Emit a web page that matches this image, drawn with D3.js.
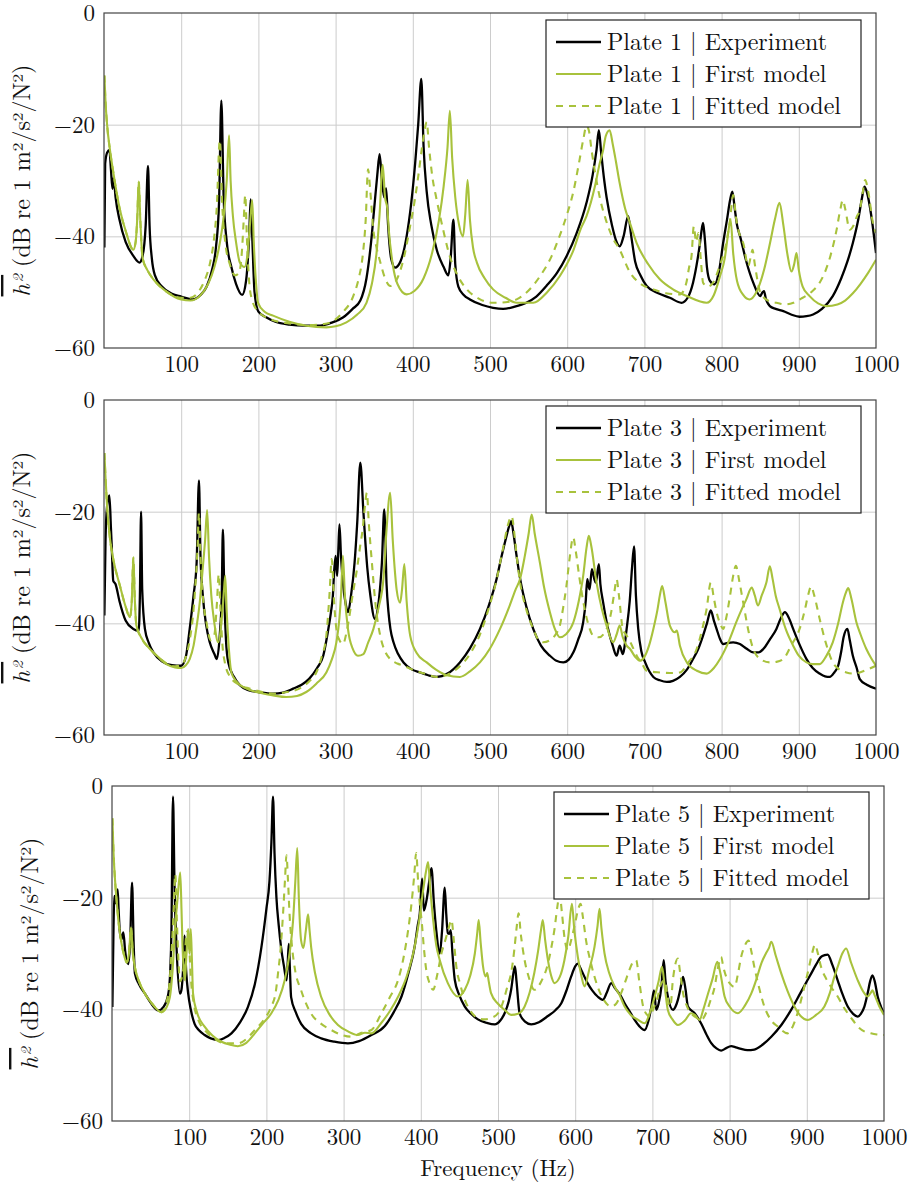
<!DOCTYPE html>
<html lang="en">
<head>
<meta charset="UTF-8">
<title>Plate FRF comparison</title>
<script src="https://d3js.org/d3.v7.min.js"></script>
<style>
    body { margin: 0; padding: 0; background: #fff; }
    svg { display: block; font-family: "Latin Modern Roman", "CMU Serif", "Liberation Serif", serif; }
    .grid line { stroke: #cccccc; stroke-width: 1; }
    .grid path { display: none; }
    .tick text { fill: #111; font-size: 23px; font-family: "Latin Modern Roman", "CMU Serif", "Liberation Serif", serif; }
    .frame { fill: none; stroke: #444; stroke-width: 1.2; }
    .curve { fill: none; stroke-linejoin: round; }
</style>
</head>
<body>
<div id="chart"></div>
<script>
// ---- data: [frequency (Hz), level (dB)] ----
const freqTicks = [100, 200, 300, 400, 500, 600, 700, 800, 900, 1000];
const dbTicks = [0, -20, -40, -60];
const dbTickLabels = ["0", "\u221220", "\u221240", "\u221260"];
const plateNames = ["Plate 1", "Plate 3", "Plate 5"];
const seriesNames = ["Experiment", "First model", "Fitted model"];

const p1Exp = [[0.5,-42],[1.5,-27],[4,-25],[7,-24.5],[9,-28],[11,-31.5],[12.5,-29.5],[15,-33],[20,-37],[28,-41],[38,-43.5],[46,-44.7],[50,-43.5],[54,-38],[57,-27.4],[59,-38],[62,-44],[66,-47],[75,-49],[88,-50.3],[100,-50.8],[115,-51.3],[125,-50.5],[133,-49],[140,-46],[145,-42],[149,-34],[152,-15.7],[155,-33],[159,-41],[165,-45.5],[171,-48.5],[179,-50.5],[184,-48],[188,-40],[190,-33.4],[192,-40],[195,-50],[200,-53.5],[210,-54.5],[222,-55.3],[240,-55.8],[260,-56],[280,-56],[296,-55.4],[310,-54.5],[322,-53],[332,-51.5],[340,-47.5],[346,-41],[350,-35],[354,-29],[357,-25.3],[360,-30],[363,-33],[365.5,-31.4],[368,-38],[372,-44],[377,-45.6],[384,-44.5],[392,-40],[398,-34],[403,-27],[407,-20],[411,-11.8],[414,-24],[418,-32],[424,-38],[431,-42.4],[440,-45.5],[446,-47],[449,-44],[452.6,-37],[455,-45],[459,-49],[466,-50.5],[474,-51.3],[490,-52.3],[504,-52.8],[517,-53],[532,-52.6],[547,-51.9],[560,-50.8],[573,-48.9],[587,-46.5],[599,-43.6],[612,-39.5],[625,-34],[633,-29],[638,-24.5],[641,-21],[644,-25],[648,-30],[651,-33],[658,-38],[664,-41],[668,-41.8],[673,-40],[679,-36.4],[683,-40],[688,-44.5],[695,-47],[703,-48.9],[718,-50.2],[733,-51],[748,-51.9],[756,-51],[763,-48.3],[769,-44],[772,-41.2],[774,-39],[776,-37.6],[778,-40],[781,-45.5],[785,-48],[791,-48.6],[797,-46],[802,-41.2],[807,-37],[811,-33.5],[814,-32],[817,-35],[820,-38],[824,-40],[832,-44.5],[841,-48.3],[850,-50.7],[853,-50],[855,-49.8],[857,-51],[862.5,-52.5],[870,-53],[880,-53.4],[890,-54],[901,-54.4],[910,-54.3],[918.5,-54],[930,-53],[944,-50.7],[955,-47.5],[963,-44.5],[970,-41.2],[977,-37],[982,-33],[985,-31.1],[988,-32],[994,-36.4],[1000,-43]];
const p1First = [[0.5,-11.2],[2,-16],[4,-20],[7.8,-24.6],[12,-28.5],[20.7,-35.3],[28,-39],[38,-42.4],[41,-41],[43,-37],[45,-30.2],[47,-37],[50,-43.9],[56,-46],[64,-47.7],[80,-49.8],[100,-51.3],[112,-51.5],[124,-50.7],[135,-48.5],[143,-45.5],[150,-41.2],[155,-36.5],[159,-30],[162,-21.9],[164,-30],[167,-36.4],[171,-41],[176,-44.7],[182,-45.5],[186,-43],[189,-38],[192,-33.5],[194,-41],[197,-48.5],[199.6,-51.9],[208,-53.5],[219,-54.2],[240,-55.3],[262,-56],[288,-56.3],[300,-56.1],[314,-55.4],[328,-54],[340,-51.9],[347,-48.5],[353,-43],[357,-36],[361,-27.2],[364,-33],[367,-35],[369,-39],[374,-45],[380,-48.5],[392,-50.4],[402,-49.8],[414,-47.5],[425,-43],[434,-37],[440,-31],[445,-24],[448,-17.5],[451,-26],[455,-33],[460,-38],[465,-40],[468,-36],[471,-29.9],[474,-37],[478,-42],[483,-44.7],[493,-47.5],[504,-49.5],[520,-51],[534.5,-51.9],[556,-51.9],[574,-50],[590.5,-47.1],[608,-42.5],[618,-38.5],[625,-36.4],[636,-31],[642,-27],[646.5,-24.6],[650,-22],[655,-21],[659,-23.5],[663,-26.5],[668,-30.5],[675,-35],[681,-37.5],[690,-41.2],[705,-45],[720,-47.7],[737,-49.5],[755,-50.7],[780.6,-51.9],[790,-50.5],[798,-47.1],[804,-44],[808,-40],[811.6,-37],[815,-43],[820,-48],[828,-50.5],[836,-51.3],[845,-50],[855,-46],[863,-41],[869,-37],[875,-34],[880,-38],[885,-43],[890.5,-46.3],[894,-45],[897,-43],[900,-46],[905,-49],[914,-50.7],[925,-52],[936,-52.5],[950,-52.2],[960,-51.5],[970,-50.2],[980,-48.5],[990,-46.5],[1000,-44.2]];
const p1Fit = [[0.5,-11.2],[2,-16],[4,-20],[7.8,-24.6],[12,-28.5],[20.7,-35.3],[28,-39],[38,-42.4],[41,-41],[43,-37],[45,-30.2],[47,-37],[50,-43.9],[56,-46],[64,-47.7],[80,-49.8],[100,-51],[112,-51],[122,-50],[130,-48],[137,-45],[142,-41],[146,-35],[150,-22.8],[153,-34],[157,-41],[163,-45],[170,-47],[175,-46.5],[179,-42],[181,-37],[183,-32.6],[185,-40],[188,-48],[192,-51.5],[200,-53.5],[215,-54.8],[240,-55.6],[265,-55.9],[285,-55.7],[296.5,-55.2],[310,-53.5],[322,-51],[330,-47.5],[335,-43.6],[339,-37],[342,-28],[345,-32],[349,-39],[353,-42],[358,-44.7],[364,-47.5],[371,-48.9],[380,-47.5],[389,-43.5],[396.5,-38.2],[402,-34],[407,-29.3],[412,-24],[416,-20.5],[418,-19.5],[421,-24],[425,-29],[431,-33.5],[438,-38],[448,-43.6],[458,-47],[470,-49.5],[486,-51.2],[504,-51.9],[520,-51.8],[534.5,-51.3],[550,-49.7],[565,-47.1],[580,-43.5],[590,-40],[599,-36.4],[608,-32],[616,-26.3],[621,-22.5],[625,-20.2],[628,-21],[632,-25],[636,-28.5],[642,-32.9],[650,-37],[658,-40],[668,-42.4],[681.5,-46.5],[695,-48.5],[711.6,-49.5],[728,-50.2],[746,-50.4],[754,-48.5],[758,-45.5],[761,-43.6],[764,-38.2],[767,-41],[770,-39.4],[773,-44],[776,-48.3],[782,-49],[789,-48.3],[797,-45.5],[806,-41.2],[811,-37],[815,-32.6],[819,-37],[824,-40],[828,-41.2],[834.5,-45.3],[838,-43.5],[840,-42.4],[843,-45],[850,-50],[860,-51.5],[871,-51.9],[882,-52.2],[893,-51.9],[905,-51],[916,-50],[927,-48.3],[935,-46],[942,-43],[949,-38.8],[954,-35],[957,-33.5],[960,-35],[966,-38.8],[971,-38],[975,-36.5],[979,-35.3],[983,-32],[986,-29.9],[990,-32],[996,-37.6],[1000,-39.4]];

const p3Exp = [[0.5,-38.6],[2,-25],[4,-19],[7,-17.1],[9,-23],[10,-26.1],[11,-30],[12,-32.4],[15,-33],[20,-36],[28,-39.5],[38,-41],[45,-41.3],[46.5,-35],[48,-20],[49.5,-34],[53,-41],[58,-43.5],[64,-45.2],[75,-46.8],[88,-47.5],[100,-47.6],[106,-46],[111,-41],[116,-35],[120,-29.1],[123,-14.4],[125,-28],[128,-35],[132,-40],[137,-43.4],[143,-45.5],[146,-46.4],[150,-42],[152.5,-35],[154,-23.2],[156,-36],[158,-43],[161,-47],[168,-49.5],[176,-51.1],[188,-52],[200,-52.3],[219,-52.6],[232,-52.4],[245,-51.7],[256,-51],[266,-49.9],[276,-48],[284,-45.8],[290,-41.5],[294,-38],[296.5,-35],[298,-31],[300,-27.9],[302,-31.5],[303.5,-27],[305,-22.3],[307,-28],[309.5,-32.7],[313,-36.5],[316,-38],[320,-35],[324.6,-29.1],[328,-22],[332,-11.2],[336,-20],[338,-24.3],[341,-30],[345,-35],[351,-39.2],[355,-37],[358,-33],[360,-29.1],[363,-19.6],[366,-33],[368.5,-38],[371,-41],[375,-43.4],[381,-45.5],[388,-47],[398,-48.2],[409.5,-48.8],[420,-49.3],[431,-49.6],[445,-49],[461,-47],[474,-44.5],[487,-41],[498,-37],[508.6,-32],[515,-28],[521.5,-24.3],[525,-22.5],[527.5,-21.7],[530,-23.5],[534,-27.5],[539,-32],[547,-37],[556,-41],[566,-44],[577.6,-45.8],[586,-46.7],[595,-47],[602,-46.5],[608,-45.2],[614,-43],[620.7,-39.8],[624,-36],[626,-32.1],[628,-33.5],[629,-33.9],[632,-30.3],[635,-32],[637,-32.7],[641,-29.4],[643,-33],[646.5,-36.2],[653,-41],[659,-44],[664,-45.8],[668,-44],[672,-45.5],[677,-41],[681,-36],[684,-30],[686.6,-26.2],[689,-35],[692,-41],[696,-45],[701,-47],[711.6,-49.6],[720,-50.2],[729,-50.5],[737,-50.3],[746,-49.6],[755,-48.3],[763,-46.4],[770,-44.5],[776,-42.2],[781,-40],[786,-37.7],[790,-39.5],[793.5,-41],[798,-42.8],[802,-43.7],[808,-43.5],[815,-43.4],[823.7,-43.7],[832,-44.5],[841,-45.2],[848,-45.2],[854,-44.6],[862,-43],[871,-41],[877,-39],[882,-38],[887,-39],[892.7,-41],[900,-43.5],[910,-46.4],[918,-48],[927,-49],[934,-49.5],[940,-49.6],[946,-48.8],[951,-47.6],[955,-45],[958,-42.5],[963,-41],[966,-43],[970,-45.8],[975,-48],[979,-50],[988,-51],[1000,-51.7]];
const p3First = [[0.5,-9.5],[2,-14],[4,-19],[7.8,-24.9],[12,-28.5],[20.7,-33.3],[28,-37],[33.6,-38.9],[36,-36],[38,-28.2],[40,-36],[42,-40.4],[48,-42.5],[59.5,-44.6],[70,-46],[81,-47.3],[92,-47.9],[100,-48],[106,-47.5],[111,-46.4],[116,-44],[120,-40.5],[124,-36.3],[128,-30],[131,-25],[133.6,-19.7],[136,-28],[139,-35],[143,-40],[148,-43.4],[152,-40],[155,-35],[157,-31.5],[159,-38],[162,-45],[165,-48.8],[172,-50.5],[184.5,-51.7],[200,-52.4],[219,-52.9],[236,-53.2],[250,-53],[262,-52.3],[275,-50.8],[288,-48.8],[295,-46.5],[301,-43.4],[305,-39],[307,-35],[309.5,-27.9],[312,-35],[316,-41],[322,-44.5],[329,-45.8],[336,-45.5],[342,-43.5],[349,-41],[356,-37],[362,-32],[366,-23.2],[370.7,-16.6],[374,-25],[377,-31],[379,-33.9],[383.6,-36.3],[386,-34],[389,-29.4],[392,-36],[396.6,-42.2],[405,-45.3],[418,-47],[430,-48.3],[444,-49.3],[461,-49.6],[474,-48.6],[487,-47],[500,-44.5],[513,-41],[525,-37],[533,-34],[539,-32],[545,-28],[550,-24],[554,-20.5],[558,-24],[564.6,-29.1],[570,-33.5],[577.6,-38],[584,-41],[590.5,-42.5],[598,-42],[608,-39.8],[615,-36],[620.7,-31.5],[625,-26.5],[628,-24.3],[631,-26],[638,-32.7],[645,-37.5],[651,-40.4],[659.5,-43.4],[664,-42],[668,-40.4],[672,-42.5],[677,-44],[681.5,-44.6],[688,-46],[694,-46.7],[700,-46],[706,-44],[711.6,-41],[717,-37.5],[720,-35],[723,-33.3],[727,-36],[733,-40.4],[739.6,-41.6],[742,-41.3],[746,-44],[755,-47],[768,-48.5],[780.6,-49],[790,-48],[798,-46.4],[810,-43],[819,-39.8],[826,-37.5],[832,-35.7],[839,-33.6],[843,-35],[847,-36.8],[852,-35],[858,-32.7],[862.5,-29.8],[866,-32],[870,-35],[875,-37.4],[883,-41],[892.7,-44],[900,-45.8],[910,-47],[918,-47.3],[927,-47.3],[935,-46],[944,-43.4],[951,-40],[957,-36.3],[961,-34.5],[964,-33.7],[968,-35.5],[974.6,-39.8],[980,-42],[987.5,-44.6],[994,-46.3],[1000,-47.6]];
const p3Fit = [[0.5,-9.5],[2,-14],[4,-19],[7.8,-24.9],[12,-28.5],[20.7,-33.3],[28,-37],[33.6,-38.9],[36,-36],[38,-28.2],[40,-36],[42,-40.4],[48,-42.5],[59.5,-44.6],[70,-46],[81,-47.2],[92,-47.7],[100,-47.5],[106,-46],[111,-43],[115,-39],[118,-34],[121,-27],[123,-20.2],[125,-28],[128,-35],[133,-40],[138,-43],[143,-42],[146,-37],[148.7,-31.2],[151,-38],[153.5,-44],[156.5,-47],[163,-49.5],[175,-51],[189,-51.7],[205,-52.3],[220,-52.6],[237,-52.3],[253,-51.7],[265,-50.5],[275,-48.8],[282,-46],[288,-42.2],[292,-35],[295,-28.5],[298,-36],[301,-41],[305,-43],[309.5,-43.7],[315,-41],[322,-35],[328,-30],[332,-26],[335,-23.2],[338,-19],[340.5,-16.6],[343,-22],[347,-29.1],[352,-37],[357.8,-42.2],[364,-45],[370.7,-46.4],[380,-47.2],[388,-47.6],[400,-48.3],[415,-49],[431,-49.6],[445,-49.2],[460,-47.8],[474,-45.5],[487,-42],[498,-37.5],[508,-32.5],[517,-26.5],[523,-22.5],[528,-20.8],[532,-24.5],[535,-28.5],[539,-32.7],[547,-37.5],[556,-41],[563,-43],[569,-43.4],[578,-43],[585,-42],[590.5,-40.4],[595,-37],[599,-33.3],[603,-28.5],[607.8,-24.6],[611,-27],[616,-32],[622,-37],[628,-40.5],[633.6,-42.2],[641,-42.5],[651,-41],[657,-38],[661,-34.5],[664,-32.1],[667,-35],[672,-41],[677,-42.2],[684,-44],[690,-45.8],[696,-47],[703,-48.5],[720,-48.8],[733,-48.9],[746,-48.8],[757,-47],[767.7,-44.6],[775,-41],[780.6,-37.4],[786,-32.7],[790,-35.5],[793.5,-38],[798,-40],[802,-41],[806,-39],[811,-35],[815,-31.5],[818.5,-29.7],[823,-32.5],[828,-36.3],[835,-41.5],[841,-44.6],[850,-46.4],[862.5,-47],[871,-46.9],[880,-46.4],[890,-44],[901,-41],[908,-37.5],[912,-35],[916,-33.4],[920,-35],[927,-39.2],[935,-43.5],[944,-47],[952,-48.2],[961.6,-48.8],[970,-49],[979,-48.8],[990,-48.2],[1000,-47.6]];

const p5Exp = [[0.5,-39.6],[2,-25],[3,-19.7],[5,-21],[7.3,-18.5],[8.5,-22],[10,-25.9],[12,-27.5],[14.7,-26.2],[17,-29.5],[21,-31.9],[23.5,-28],[26,-17.3],[28,-28],[29.7,-33.6],[35,-35.5],[42.7,-37.2],[50,-38.8],[60,-40.2],[67,-39.5],[73,-37.2],[75.5,-33],[77,-25.9],[79,-1.9],[81,-18],[83.6,-28.9],[88,-37.2],[90,-36.5],[92,-33],[94,-26.8],[96,-33],[98.7,-37.2],[102,-40],[107,-42.6],[113,-43.8],[120,-44.6],[128,-45.2],[137.5,-45.5],[146,-45.1],[154.7,-44.3],[165,-42.5],[176,-39.6],[185,-35.5],[193.5,-28.9],[200,-22],[204,-17],[206.5,-10],[208.6,-1.9],[210.5,-12],[213,-20],[216,-25],[219,-28.9],[223,-32.5],[226,-34.8],[227.5,-32],[229,-28.3],[230.5,-33],[232,-37.8],[238,-40.5],[245,-42.6],[258,-44.3],[271,-45.2],[288,-45.8],[305.6,-46.1],[320,-45.7],[336,-44.6],[353.4,-43],[365,-40.5],[375,-37.7],[384,-33.5],[392,-28.8],[396,-25],[398.7,-22.8],[401.7,-16.6],[404,-22.3],[408,-20],[411,-17],[413.8,-14.7],[417,-21],[420,-25.8],[424.6,-30],[427.5,-26],[431,-18.2],[433,-23],[435,-26.4],[437,-26.5],[438.8,-25.8],[441,-30],[444,-34.7],[450,-37.5],[457,-39.5],[465,-40.8],[474,-41.8],[485,-42.4],[495.7,-42.7],[503,-42],[508.6,-40.7],[514,-38.5],[517,-36.5],[520,-33.5],[522,-32.3],[524,-35],[528,-40.7],[535,-42.2],[543,-42.7],[553,-42.3],[564.7,-41.2],[574,-40.2],[582,-38.9],[589,-36.5],[594.8,-34.1],[600,-32.3],[603.4,-31.8],[608,-33],[616,-35.3],[622,-36.6],[629,-37.7],[635.8,-38.3],[641,-37],[646.6,-35.3],[652,-36.3],[659.5,-37.7],[664,-38.9],[672,-40.7],[677,-41.9],[683,-43],[690,-43.7],[695,-42],[698.7,-39.5],[702,-36.6],[705,-40.1],[708,-39],[711.6,-36],[714.7,-31.2],[717,-35],[720,-37.7],[726.7,-40.1],[730,-39.5],[733,-38.3],[736,-36.5],[739.7,-34.2],[743,-36.5],[746,-39.5],[754.7,-40.7],[763,-42.5],[770,-44.5],[776,-46],[783,-47],[789,-47.4],[795,-47],[802,-46.6],[808,-46.8],[815,-47.1],[823,-47.3],[832,-47.2],[843,-46.3],[854,-44.9],[867,-42.8],[879.7,-40.1],[892,-37],[905.6,-33.6],[912,-32],[918.5,-30.6],[923,-30.3],[927,-30.2],[933,-32],[940,-34.8],[946,-37.2],[953,-39.5],[960,-40.8],[966,-41.3],[970,-40.8],[974.6,-39.5],[979,-37],[982,-35],[985,-33.9],[988,-35],[991.8,-37.7],[996,-39.5],[1000,-40.7]];
const p5First = [[0.5,-5.8],[2,-12],[4,-17],[6,-20.6],[9,-25],[12.5,-28.3],[16,-30.5],[19,-31.6],[22,-30],[24.6,-25.3],[27,-30],[29.7,-32.5],[35,-35],[42.7,-37.2],[52,-39],[64,-40.5],[70,-39.8],[75,-37.8],[78.5,-33],[81.5,-25.9],[85,-20],[88.4,-15.5],[90,-22],[91.4,-28.9],[93,-33],[94.4,-34.8],[96.5,-30],[98.7,-25.6],[100.3,-30],[102,-25.6],[103.5,-31],[105,-37.2],[110,-40.5],[120,-43.1],[130,-44.7],[141.8,-45.8],[152,-46.3],[163,-46.6],[174,-46],[185,-44.3],[195,-42.6],[206,-40.8],[215,-38.5],[223.7,-34.8],[230,-30],[234.5,-24.2],[237.5,-17],[240,-11.1],[242,-20],[245,-27.7],[248,-29],[251,-26],[254,-23],[256,-26],[258,-28.9],[263,-33.5],[271,-37.8],[282,-41],[292.7,-42.8],[305,-43.9],[318.5,-44.6],[327.6,-44.2],[336,-44.3],[349,-42.4],[360,-40.3],[370.7,-37.7],[382,-34],[392,-28.8],[398,-24],[403,-18.7],[406.5,-15.5],[409.5,-13.6],[412,-18],[416,-24],[420,-28.5],[424.6,-31.2],[435,-35.3],[448,-37.7],[457,-36.5],[464,-34],[470,-30],[473,-26.5],[475,-24],[477.5,-28],[480.6,-32.3],[484,-34.1],[486,-33.5],[488,-35],[491,-37.1],[500,-39],[508.6,-40.1],[517,-41],[526,-40.8],[534.5,-39.5],[541,-37],[547,-33.5],[552,-29.5],[555.5,-26],[558,-24],[561,-27.5],[564.7,-31.2],[570,-34.5],[573,-35.3],[580,-34.2],[586,-31.2],[591,-27],[595.7,-21.1],[599,-26],[603.4,-30.6],[608,-34],[612,-35.9],[618,-33],[625,-28.8],[629,-25],[631.5,-22],[634,-25.5],[638,-30],[644,-33.5],[651,-35.9],[657,-37.3],[664,-39.5],[672,-41],[681.5,-41.9],[690,-42.5],[697,-40.5],[703,-37.7],[708,-35],[712.5,-32.4],[716,-36],[720,-40.1],[726,-41.8],[733,-42.8],[742,-42],[750,-40.7],[755,-41],[761,-41.9],[766,-40],[772,-37.2],[778,-34.5],[784,-31.5],[788,-33.5],[793.5,-37.7],[800,-39.5],[810.8,-40.7],[820,-39.3],[828,-37.2],[835,-34.5],[841,-31.8],[847,-30],[851,-29],[854,-27.9],[860,-30.5],[867,-33.6],[875,-36.7],[884,-39.5],[892,-41.2],[901,-41.9],[912,-41],[922.8,-39.5],[930,-37],[935,-34.5],[940,-32.4],[946,-30],[951,-29.1],[957,-31.5],[966,-34.8],[973,-36.8],[979,-37.7],[983,-37],[985,-36.6],[988,-37.5],[994,-39.5],[1000,-41]];
const p5Fit = [[0.5,-5.8],[2,-12],[4,-17],[6,-20.6],[9,-25],[12.5,-28.3],[16,-30.5],[19,-31.6],[22,-30],[24.6,-25.3],[27,-30],[29.7,-32.5],[35,-35],[42.7,-37.2],[52,-39],[64,-40.5],[70,-39],[74,-36],[77,-30],[80,-22],[82,-15.8],[84,-24],[86,-31],[88,-35],[91,-34],[94,-31],[96,-27],[98,-26],[100,-29],[102.5,-35],[106,-39],[112,-42],[120,-43.7],[133,-45.3],[146,-46.1],[163,-46.1],[175,-45.2],[185,-43.7],[196,-42],[206,-39.6],[212,-37],[215,-33.6],[218.5,-29],[221.5,-23],[224,-17],[226,-12.4],[228,-17],[230,-23],[233,-28.5],[236.6,-32.5],[245,-36.6],[258,-40.8],[270,-42.5],[284,-43.7],[296,-44.5],[310,-44.9],[323,-44.2],[336,-43.7],[349,-40.7],[360,-37.8],[370.7,-34.7],[378,-30.5],[383.6,-25.8],[388,-21],[391.5,-16],[394,-12],[396.5,-17],[399,-21.5],[401,-24],[404,-29],[407,-32.9],[411,-35.2],[416,-36.5],[421,-34],[426.7,-30],[432,-27.5],[436,-25.5],[439.7,-24],[443,-28],[446,-32.3],[451,-35.5],[457,-38.3],[463,-40],[470,-41.2],[482.7,-41.8],[492,-41.5],[500,-40.7],[507,-38.5],[512,-36],[517,-33.5],[521,-29.5],[524,-25.5],[526.7,-22.8],[529.5,-26.5],[534.5,-31.2],[540,-34.3],[547,-36.5],[556,-35],[564.7,-31.8],[569,-29],[573,-25.8],[577,-21.5],[579.7,-19.3],[583,-23],[586,-27],[590.5,-29.4],[595,-27.5],[600,-24.5],[604,-22],[607,-21.1],[610,-23.5],[614,-27.6],[620,-31.5],[629,-35.9],[637,-38.3],[646.6,-39.5],[653,-39],[659.5,-37.1],[665,-35],[670,-33],[675,-31.5],[679,-31.2],[683,-35],[688,-39.5],[692,-40.8],[696.6,-41.3],[701,-40],[707,-37.7],[711,-35.5],[716,-34.8],[719,-37],[722.4,-39.5],[724,-39],[726,-35.5],[729,-32.4],[733,-30.9],[736,-33.5],[739.7,-37.1],[745,-39.5],[750,-40.7],[757,-41.5],[763,-41.9],[770,-40.5],[775,-38.5],[780.6,-36],[785,-32.5],[789,-30.6],[792,-32.5],[795.7,-34.2],[801,-35.5],[806.5,-36],[811,-33.5],[815,-30.6],[820,-28.5],[824.6,-27.7],[828,-29.5],[832,-32.4],[838,-36],[845,-39.5],[853,-41.8],[862.5,-43.1],[875,-44.3],[882,-43],[888,-40.7],[895,-37],[901,-33.6],[906,-30.5],[910.8,-28.4],[914,-29.8],[918.5,-32.4],[925,-34.5],[931.5,-36],[940,-37.7],[946,-39.2],[953,-40.7],[960,-42],[966,-43.1],[975,-44],[983,-44.3],[991,-44.5],[1000,-44.6]];

// ---- layout ----
const W = 920, H = 1189;
const plotW = 772, plotH = 335;
const green = "#a8c23c";
const styles = [
    {color: "#000", width: 2.3, dash: null},
    {color: green, width: 2.1, dash: null},
    {color: green, width: 2.1, dash: "7,6"}
];
const panels = [
    {plate: plateNames[0], series: [p1Exp, p1First, p1Fit], left: 104, top: 13, labelX: 30},
    {plate: plateNames[1], series: [p3Exp, p3First, p3Fit], left: 104, top: 400, labelX: 30},
    {plate: plateNames[2], series: [p5Exp, p5First, p5Fit], left: 112, top: 786, labelX: 38}
];

const svg = d3.select("#chart").append("svg")
    .attr("width", W)
    .attr("height", H);

svg.append("rect").attr("width", W).attr("height", H).attr("fill", "#fff");

const x = d3.scaleLinear().domain([0, 1000]).range([0, plotW]);
const y = d3.scaleLinear().domain([-60, 0]).range([plotH, 0]);

const line = d3.line()
    .x(d => x(d[0]))
    .y(d => y(d[1]))
    .curve(d3.curveMonotoneX);

panels.forEach((p, i) => {
    const g = svg.append("g").attr("transform", `translate(${p.left},${p.top})`);

    // grid + tick labels
    g.append("g")
        .attr("class", "grid")
        .attr("transform", `translate(0,${plotH})`)
        .call(d3.axisBottom(x).tickValues(freqTicks).tickSize(-plotH).tickPadding(8)
            .tickFormat(d => String(d)));
    g.append("g")
        .attr("class", "grid")
        .call(d3.axisLeft(y).tickValues(dbTicks).tickSize(-plotW).tickPadding(9)
            .tickFormat((d, k) => dbTickLabels[k]));

    // drop the grid line that sits on the frame
    g.selectAll(".grid .tick line").filter(d => d === 1000 || d === 0 || d === -60).remove();

    // curves
    const clipId = "clip" + i;
    g.append("clipPath").attr("id", clipId)
        .append("rect").attr("width", plotW).attr("height", plotH);

    const curves = g.append("g").attr("clip-path", `url(#${clipId})`);
    p.series.forEach((s, k) => {
        curves.append("path")
            .datum(s)
            .attr("class", "curve")
            .attr("stroke", styles[k].color)
            .attr("stroke-width", styles[k].width)
            .attr("stroke-dasharray", styles[k].dash)
            .attr("d", line);
    });

    g.append("rect").attr("class", "frame").attr("width", plotW).attr("height", plotH);

    // y label
    const yl = svg.append("text")
        .attr("transform", `translate(${p.labelX},${p.top + plotH / 2}) rotate(-90)`)
        .attr("text-anchor", "middle")
        .attr("font-size", 24)
        .attr("fill", "#111");
    yl.append("tspan").attr("font-style", "italic")
        .style("text-decoration", "overline").text("h\u00B2");
    yl.append("tspan").text(" (dB re 1 m\u00B2/s\u00B2/N\u00B2)");

    // legend
    const lg = g.append("g").attr("transform", `translate(${plotW - 15 - 315},${i === 0 ? 7 : 6})`);
    lg.append("rect").attr("width", 315).attr("height", 107)
        .attr("fill", "#fff").attr("stroke", "#222").attr("stroke-width", 1.2);
    seriesNames.forEach((name, k) => {
        const row = lg.append("g").attr("transform", `translate(0,${22 + k * 32})`);
        row.append("line").attr("x1", 10).attr("x2", 55)
            .attr("stroke", styles[k].color)
            .attr("stroke-width", styles[k].width)
            .attr("stroke-dasharray", styles[k].dash);
        row.append("text").attr("x", 61).attr("y", 8)
            .attr("font-size", 24).attr("fill", "#111")
            .text(`${p.plate} | ${name}`);
    });
});

// x label under the last panel
svg.append("text")
    .attr("x", panels[2].left + plotW / 2)
    .attr("y", 1176)
    .attr("text-anchor", "middle")
    .attr("font-size", 23)
    .attr("fill", "#111")
    .text("Frequency (Hz)");
</script>
</body>
</html>
